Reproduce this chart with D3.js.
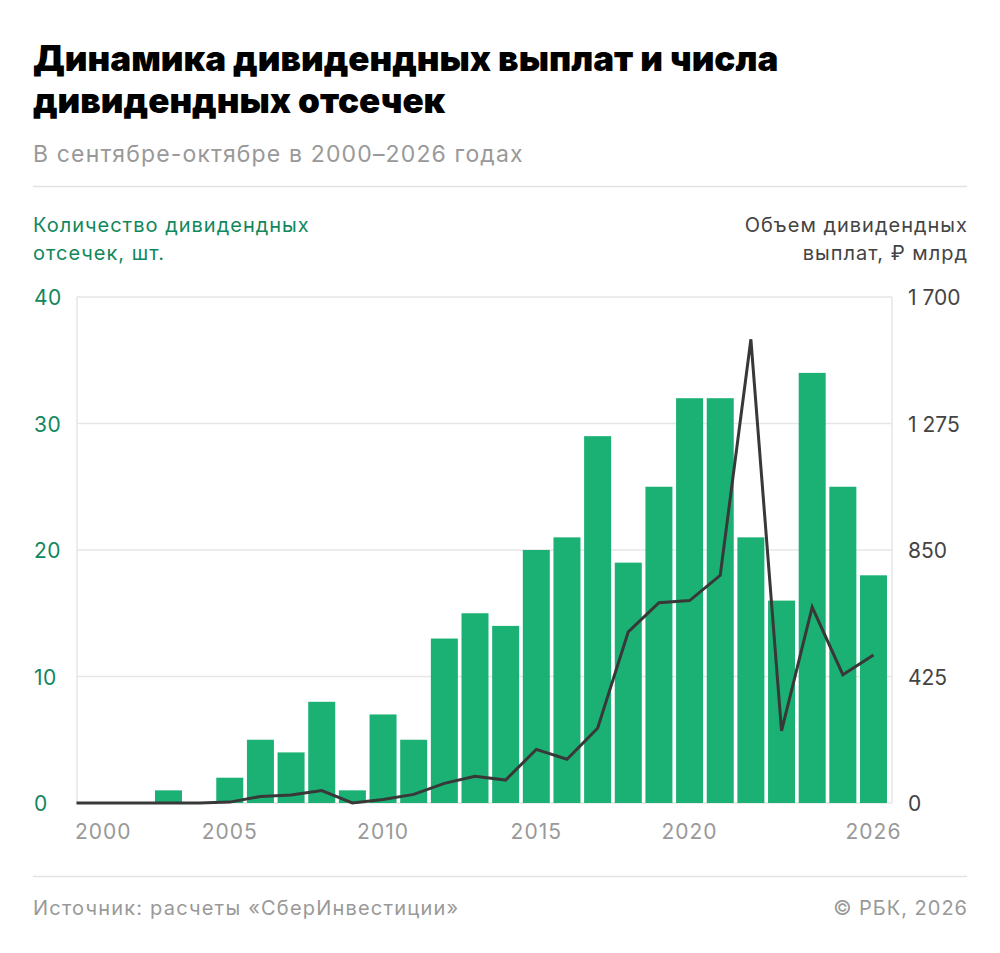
<!doctype html>
<html>
  <head>
    <meta charset="utf-8">
    <script src="https://d3js.org/d3.v7.min.js"></script>
    <style>
      body { margin: 0; background: #fff; }
      text { font-family: Inter, Roboto, "Noto Sans", sans-serif; }
    </style>
  </head>
  <body>
    <script>
    // data
    var years = d3.range(2000, 2027);
    var cutoffs = [0, 0, 0, 1, 0, 2, 5, 4, 8, 1, 7, 5, 13, 15, 14, 20, 21, 29, 19, 25, 32, 32, 21, 16, 34, 25, 18];
    var payouts = [0, 0, 0, 0, 0, 3, 22, 27, 42, 0, 12, 29, 66, 90, 77, 180, 147, 251, 575, 673, 680, 765, 1558, 242, 658, 431, 497];
    var leftTicks = [0, 10, 20, 30, 40];
    var rightTicks = [0, 425, 850, 1275, 1700];
    var xTicks = [2000, 2005, 2010, 2015, 2020, 2026];

    var width = 1000;
    var height = 953;

    var plot = { left: 77, right: 892, top: 297, bottom: 803 };

    var svg = d3.select("body")
              .append("svg")
              .attr("width", width)
              .attr("height", height);

    // header
    svg.append("text")
      .attr("x", 33).attr("y", 71)
      .attr("font-size", "35px").attr("font-weight", 900)
      .attr("fill", "#000")
      .text("Динамика дивидендных выплат и числа");
    svg.append("text")
      .attr("x", 33).attr("y", 113)
      .attr("font-size", "35px").attr("font-weight", 900)
      .attr("fill", "#000")
      .text("дивидендных отсечек");
    svg.append("text")
      .attr("x", 33).attr("y", 162)
      .attr("font-size", "23px")
      .attr("letter-spacing", "1.15px")
      .attr("fill", "#999")
      .text("В сентябре-октябре в 2000–2026 годах");
    svg.append("line")
      .attr("x1", 33).attr("x2", 967)
      .attr("y1", 186.5).attr("y2", 186.5)
      .attr("stroke", "#e3e3e3").attr("stroke-width", 1.5);

    // axis titles
    var green = "#11875d";
    var titles = svg.append("g")
      .attr("font-size", "20px")
      .attr("letter-spacing", "1px");
    titles.append("text").attr("x", 33).attr("y", 232)
      .attr("fill", green)
      .text("Количество дивидендных");
    titles.append("text").attr("x", 33).attr("y", 260)
      .attr("fill", green)
      .text("отсечек, шт.");
    titles.append("text").attr("x", 968).attr("y", 232)
      .attr("text-anchor", "end")
      .attr("fill", "#444")
      .text("Объем дивидендных");
    titles.append("text").attr("x", 968).attr("y", 260)
      .attr("text-anchor", "end")
      .attr("fill", "#444")
      .text("выплат, ₽ млрд");

    var x = d3.scaleLinear()
              .domain([2000, 2026])
              .range([76.5, 873.5]);

    var yLeft = d3.scaleLinear()
              .domain([0, 40])
              .range([plot.bottom, plot.top]);

    var yRight = d3.scaleLinear()
              .domain([0, 1700])
              .range([plot.bottom, plot.top]);

    // gridlines
    svg.append("g")
      .selectAll("line")
      .data(leftTicks)
      .enter()
      .append("line")
        .attr("x1", plot.left).attr("x2", plot.right)
        .attr("y1", function(d) { return yLeft(d); })
        .attr("y2", function(d) { return yLeft(d); })
        .attr("stroke", "#e6e6e6").attr("stroke-width", 1.5);

    svg.append("line")
      .attr("x1", plot.left).attr("x2", plot.left)
      .attr("y1", plot.top).attr("y2", plot.bottom)
      .attr("stroke", "#e6e6e6").attr("stroke-width", 1.5);
    svg.append("line")
      .attr("x1", plot.right).attr("x2", plot.right)
      .attr("y1", plot.top).attr("y2", plot.bottom)
      .attr("stroke", "#e6e6e6").attr("stroke-width", 1.5);

    // bars
    var barW = 27;
    svg.append("g")
      .selectAll("rect")
      .data(years)
      .enter()
      .append("rect")
        .attr("x", function(d) { return x(d) - barW / 2; })
        .attr("y", function(d, i) { return yLeft(cutoffs[i]); })
        .attr("width", barW)
        .attr("height", function(d, i) { return plot.bottom - yLeft(cutoffs[i]); })
        .attr("fill", "#1cb174");

    // line
    var line = d3.line()
            .x(function(d) { return x(d); })
            .y(function(d, i) { return yRight(payouts[i]); });

    svg.append("path")
      .datum(years)
      .attr("fill", "none")
      .attr("stroke", "#383838")
      .attr("stroke-width", 3)
      .attr("d", line);

    // left ticks
    svg.append("g")
      .selectAll("text")
      .data(leftTicks)
      .enter()
      .append("text")
        .attr("x", 34)
        .attr("y", function(d) { return yLeft(d) + 8; })
        .attr("font-size", "21px")
        .attr("letter-spacing", "0.5px")
        .attr("fill", green)
        .text(function(d) { return d; });

    // right ticks
    var fmt = function(d) { return d >= 1000 ? d3.format(",")(d).replace(",", " ") : d; };
    svg.append("g")
      .selectAll("text")
      .data(rightTicks)
      .enter()
      .append("text")
        .attr("x", 908)
        .attr("y", function(d) { return yRight(d) + 8; })
        .attr("font-size", "21px")
        .attr("fill", "#444")
        .text(fmt);

    // x ticks
    svg.append("g")
      .selectAll("text")
      .data(xTicks)
      .enter()
      .append("text")
        .attr("x", function(d, i) { return i === 0 ? plot.left - 2 : x(d); })
        .attr("y", 839)
        .attr("text-anchor", function(d, i) { return i === 0 ? "start" : "middle"; })
        .attr("font-size", "21px")
        .attr("letter-spacing", "1px")
        .attr("fill", "#999")
        .text(function(d) { return d; });

    // footer
    svg.append("line")
      .attr("x1", 33).attr("x2", 967)
      .attr("y1", 876.5).attr("y2", 876.5)
      .attr("stroke", "#e3e3e3").attr("stroke-width", 1.5);
    svg.append("text")
      .attr("x", 33).attr("y", 915)
      .attr("font-size", "20px").attr("fill", "#999")
      .attr("letter-spacing", "1.2px")
      .text("Источник: расчеты «СберИнвестиции»");
    svg.append("text")
      .attr("x", 968).attr("y", 915)
      .attr("text-anchor", "end")
      .attr("font-size", "20px").attr("fill", "#999")
      .attr("letter-spacing", "1px")
      .text("© РБК, 2026");
    </script>
  </body>
</html>
